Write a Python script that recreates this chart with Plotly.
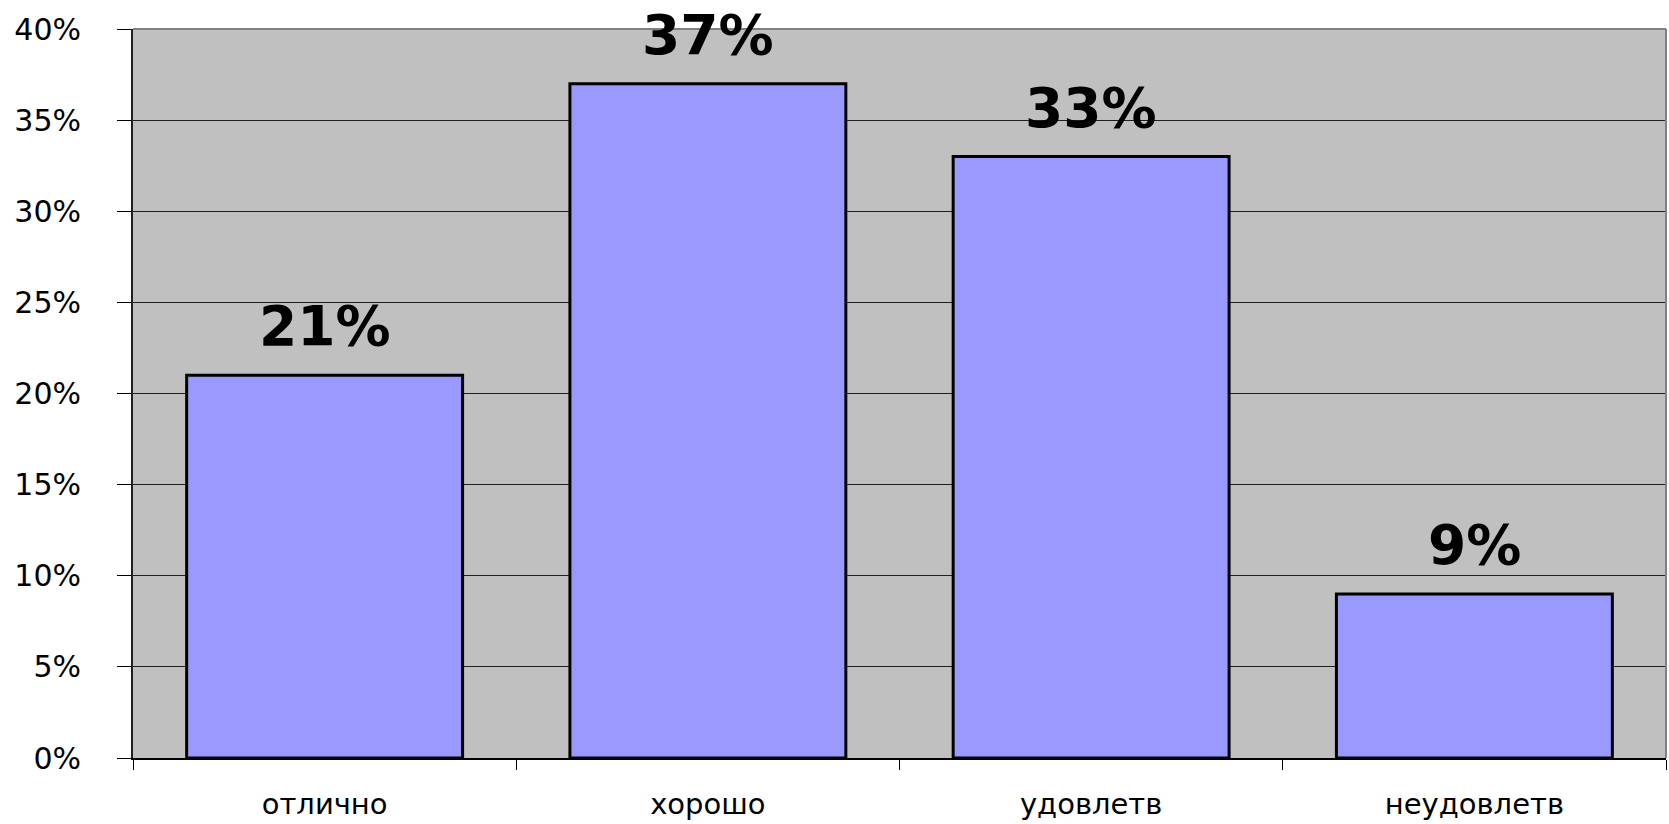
import plotly.graph_objects as go

categories = ["отлично", "хорошо", "удовлетв", "неудовлетв"]
values = [21, 37, 33, 9]
labels = ["21%", "37%", "33%", "9%"]
y_tick_values = [0, 5, 10, 15, 20, 25, 30, 35, 40]
y_tick_labels = ["0%", "5%", "10%", "15%", "20%", "25%", "30%", "35%", "40%"]

fig = go.Figure()
fig.add_trace(go.Bar(
    x=categories, y=values,
    marker=dict(color="#9999FF", line=dict(color="black", width=3)),
    width=0.72,
    hoverinfo="skip",
))

for c, v, t in zip(categories, values, labels):
    fig.add_annotation(x=c, y=v, text=t, showarrow=False, yanchor="bottom",
                       yshift=15,
                       font=dict(family="DejaVu Sans", size=55, color="black", weight="bold"))

fig.update_layout(
    width=1669, height=824,
    margin=dict(l=133, r=3, t=29, b=66),
    paper_bgcolor="white",
    plot_bgcolor="#C0C0C0",
    showlegend=False,
    bargap=0.28,
    xaxis=dict(
        automargin=False,
        showgrid=False, showline=True, linecolor="black", linewidth=1.5,
        ticks="outside", tickson="boundaries", ticklen=10, tickcolor="black",
        tickwidth=1,
        tickfont=dict(family="DejaVu Sans", size=29, color="black"),
        ticklabelstandoff=19,
    ),
    yaxis=dict(
        automargin=False,
        range=[0, 40], tickvals=y_tick_values, ticktext=y_tick_labels,
        showgrid=True, gridcolor="#202020", gridwidth=1,
        showline=True, linecolor="#202020", linewidth=2,
        ticks="outside", ticklen=14, tickcolor="black", tickwidth=1,
        tickfont=dict(family="DejaVu Sans", size=30, color="black"),
        ticklabelstandoff=30, zeroline=False,
    ),
    shapes=[
        dict(type="line", xref="paper", yref="paper", x0=0, x1=1, y0=1, y1=1,
             line=dict(color="#808080", width=2)),
        dict(type="line", xref="paper", yref="paper", x0=1, x1=1, y0=0, y1=1,
             line=dict(color="#808080", width=2)),
    ],
)

fig.write_html("out.html", config={"displayModeBar": False},
               post_script="document.body.style.margin='0';document.body.style.overflow='hidden';")
